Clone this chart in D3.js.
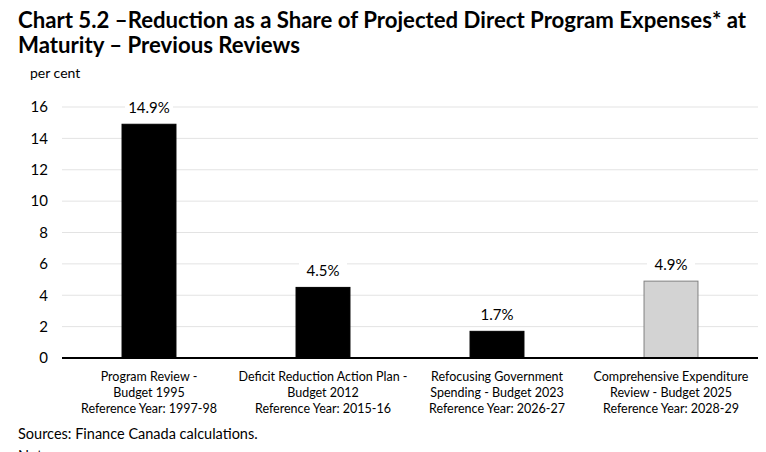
<!DOCTYPE html>
<html>
<head>
<meta charset="utf-8">
<script src="https://cdn.jsdelivr.net/npm/d3@7"></script>
<style>
  body { margin: 0; background: #fff; font-family: Lato, "Open Sans", sans-serif; }
  svg { display: block; }
</style>
</head>
<body>
<script>
// chart data
var categories = [
  ["Program Review -", "Budget 1995", "Reference Year: 1997-98"],
  ["Deficit Reduction Action Plan -", "Budget 2012", "Reference Year: 2015-16"],
  ["Refocusing Government", "Spending - Budget 2023", "Reference Year: 2026-27"],
  ["Comprehensive Expenditure", "Review - Budget 2025", "Reference Year: 2028-29"]
];
var values = [14.9, 4.5, 1.7, 4.9];
var valueLabels = ["14.9%", "4.5%", "1.7%", "4.9%"];
var barFills = ["#000000", "#000000", "#000000", "#d3d3d3"];
var yTicks = [0, 2, 4, 6, 8, 10, 12, 14, 16];

var width = 766, height = 452;

var svg = d3.select('body')
  .append('svg')
  .attr('width', width)
  .attr('height', height);

// title
var title = svg.append('text')
  .attr('font-weight', 'bold')
  .attr('font-size', 22.2)
  .attr('fill', '#000');
title.append('tspan').attr('x', 18).attr('y', 28)
  .text('Chart 5.2 \u2013Reduction as a Share of Projected Direct Program Expenses* at');
title.append('tspan').attr('x', 18).attr('y', 53)
  .text('Maturity \u2013 Previous Reviews');

svg.append('text')
  .attr('x', 30).attr('y', 78)
  .attr('font-size', 14)
  .text('per cent');

var x = d3.scaleBand()
  .domain(d3.range(categories.length))
  .range([62, 758])
  .paddingInner(0.69)
  .paddingOuter(0.345);

var y = d3.scaleLinear()
  .domain([0, 16])
  .range([358, 107]);

// gridlines
svg.append('g')
  .selectAll('line')
  .data(yTicks.filter(function(d){ return d > 0; }))
  .enter()
  .append('line')
  .attr('x1', 62).attr('x2', 758)
  .attr('y1', function(d){ return y(d); })
  .attr('y2', function(d){ return y(d); })
  .attr('stroke', '#e3e3e3')
  .attr('stroke-width', 1);

// y axis
var yAxis = d3.axisLeft(y).tickValues(yTicks).tickSize(0).tickPadding(14);
var ya = svg.append('g')
  .attr('transform', 'translate(62,0)')
  .call(yAxis);
ya.select('.domain').remove();
ya.selectAll('text')
  .attr('font-family', 'Lato, sans-serif')
  .attr('font-size', 15)
  .attr('fill', '#000');

// bars
svg.append('g')
  .selectAll('rect')
  .data(values)
  .enter()
  .append('rect')
  .attr('x', function(d, i){ return x(i); })
  .attr('width', x.bandwidth())
  .attr('y', function(d){ return y(d); })
  .attr('height', function(d){ return y(0) - y(d); })
  .attr('fill', function(d, i){ return barFills[i]; })
  .attr('stroke', function(d, i){ return i === 3 ? '#808080' : '#000'; })
  .attr('stroke-width', 1);

// value labels with white background
var lbl = svg.append('g')
  .selectAll('g')
  .data(values)
  .enter()
  .append('g')
  .attr('transform', function(d, i){
    return 'translate(' + (x(i) + x.bandwidth() / 2) + ',' + (y(d) - 11) + ')';
  });
lbl.append('rect')
  .attr('x', -24).attr('y', -14)
  .attr('width', 48).attr('height', 18)
  .attr('fill', '#fff');
lbl.append('text')
  .attr('text-anchor', 'middle')
  .attr('font-size', 15)
  .text(function(d, i){ return valueLabels[i]; });

// baseline
svg.append('line')
  .attr('x1', 62).attr('x2', 758)
  .attr('y1', y(0)).attr('y2', y(0))
  .attr('stroke', '#000')
  .attr('stroke-width', 2);

// category labels
var cat = svg.append('g')
  .selectAll('text')
  .data(categories)
  .enter()
  .append('text')
  .attr('text-anchor', 'middle')
  .attr('font-size', 12.5)
  .attr('fill', '#000');
cat.selectAll('tspan')
  .data(function(d, i){ return d.map(function(s){ return {s: s, i: i}; }); })
  .enter()
  .append('tspan')
  .attr('x', function(d){ return x(d.i) + x.bandwidth() / 2; })
  .attr('y', function(d, j){ return 381 + j * 16; })
  .text(function(d){ return d.s; });

svg.append('text')
  .attr('x', 18).attr('y', 439)
  .attr('font-size', 14.5)
  .text('Sources: Finance Canada calculations.');

// the notes line starts at the bottom edge, as in the reference
svg.append('text')
  .attr('x', 18).attr('y', 461)
  .attr('font-size', 14.5)
  .text('Notes:');
</script>
</body>
</html>
